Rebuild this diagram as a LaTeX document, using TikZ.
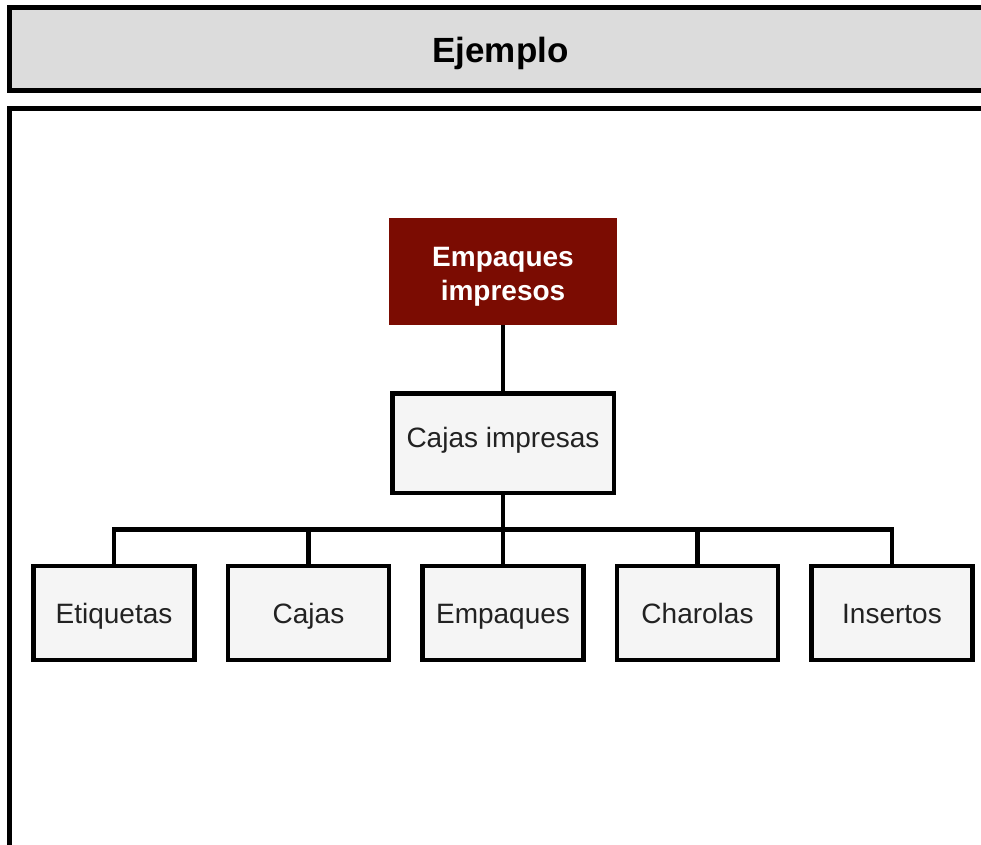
\documentclass[tikz,border=0pt]{standalone}
\usepackage{fontspec}
\setmainfont{Liberation Sans}
\usetikzlibrary{positioning}
\definecolor{cabecera}{RGB}{220,220,220}
\definecolor{cajagris}{RGB}{245,245,245}
\definecolor{granate}{RGB}{123,12,2}
\definecolor{textogris}{RGB}{34,34,34}

\begin{document}
\begin{tikzpicture}[x=1pt,y=-1pt,
	marco/.style={draw=black,line width=5pt},
	caja/.style={draw=black,line width=4.5pt,fill=cajagris,text=textogris,inner sep=0pt,
		font=\fontsize{28}{32}\selectfont,text height=21pt,text depth=0pt,
		minimum width=161pt,minimum height=94pt},
	enlace/.style={draw=black,line width=4.5pt}]
\useasboundingbox (0,0) rectangle (981,844);
\clip (0,0) rectangle (981,844);
%frames
\fill[white] (0,0) rectangle (981,844);
\draw[marco,fill=cabecera] (9.5,7.5) rectangle (995,90);
\draw[marco,fill=white] (9.5,108) rectangle (995,860);
\node[anchor=base,inner sep=0pt,font=\fontsize{35}{40}\selectfont\bfseries] (titulo) at (500.5,62){Ejemplo};
%nodes
\node[fill=granate,text=white,inner sep=0pt,minimum width=228pt,minimum height=107pt,
	font=\fontsize{28}{32}\selectfont\bfseries] (raiz) at (503,271.5)
	{\raisebox{-12pt}[0pt][0pt]{\begin{tabular}{@{}c@{}}Empaques\\[1.5pt]impresos\end{tabular}}};
\node[caja,minimum width=221.5pt,minimum height=99.5pt,text height=8pt] (cajasimp) at (503,443){Cajas impresas};
\node[caja] (etiq) at (114,613){Etiquetas};
\node[caja] (cajas) at (308.5,613){Cajas};
\node[caja] (empaq) at (503,613){Empaques};
\node[caja] (charo) at (697.5,613){Charolas};
\node[caja] (inser) at (892,613){Insertos};
\coordinate (bus) at (503,529.5);
%edges
\draw[enlace] (raiz) -- (cajasimp);
\draw[enlace] (cajasimp) -- (bus);
\foreach \hijo in {etiq,cajas,empaq,charo,inser}
	\draw[enlace] (bus) -| (\hijo.north);
\end{tikzpicture}
\end{document}
